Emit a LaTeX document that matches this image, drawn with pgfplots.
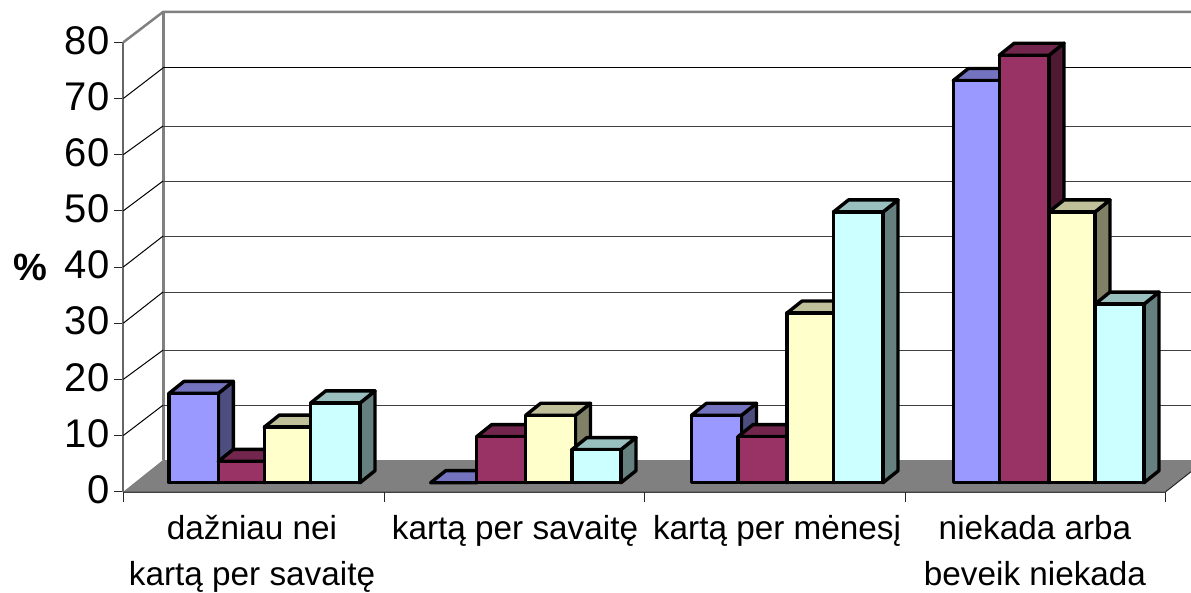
\documentclass[border=0pt]{standalone}
\usepackage{pgfplots}
\pgfplotsset{compat=1.18}
\usepackage{fontspec}
\setmainfont{Liberation Sans}
\definecolor{bf}{HTML}{9999FF}\definecolor{bt}{HTML}{7373BF}\definecolor{bs}{HTML}{4D4D80}
\definecolor{rf}{HTML}{993366}\definecolor{rt}{HTML}{73264D}\definecolor{rs}{HTML}{4D1933}
\definecolor{yf}{HTML}{FFFFCC}\definecolor{yt}{HTML}{BFBF99}\definecolor{ys}{HTML}{808066}
\definecolor{cf}{HTML}{CCFFFF}\definecolor{ct}{HTML}{99BFBF}\definecolor{cs}{HTML}{668080}
% #1 left, #2 right, #3 value, #4 colour prefix
\newcommand\cube[4]{%
  \pgfmathsetmacro\yb{1.6}%
  \pgfmathsetmacro\yB{1.6+2.14}%
  \pgfmathsetmacro\yt{1.6+#3}%
  \pgfmathsetmacro\yT{1.6+#3+2.14}%
  \pgfmathsetmacro\xl{#1+15}%
  \pgfmathsetmacro\xr{#2+15}%
  \edef\tmp{%
    \noexpand\addplot[barline,fill=#4s] coordinates {(#2,\yb)(\xr,\yB)(\xr,\yT)(#2,\yt)} -- cycle;
    \noexpand\addplot[barline,fill=#4t] coordinates {(#1,\yt)(#2,\yt)(\xr,\yT)(\xl,\yT)} -- cycle;
    \noexpand\addplot[barline,fill=#4f] coordinates {(#1,\yb)(#2,\yb)(#2,\yt)(#1,\yt)} -- cycle;
  }\tmp}
\begin{document}
\begin{tikzpicture}[x=1pt,y=1pt]
\path[use as bounding box] (0,0) rectangle (1191,592);
\clip (0,0) rectangle (1191,592);
\begin{axis}[
  at={(123.3pt,100.3pt)},anchor=south west,
  scale only axis,width=1042.4pt,height=449.4pt,
  xmin=123.3,xmax=1165.7,ymin=0,ymax=80,clip=false,
  axis x line=bottom,axis y line=left,axis line style={-},
  x axis line style={color=black!75,line width=2pt},
  y axis line style={color=black!60,line width=2pt},
  barline/.style={draw=black,line width=3.4pt,line join=round,mark=none},
  ytick={0,10,...,80},
  yticklabel style={font=\fontsize{40}{40}\selectfont,xshift=-1pt,yshift=2pt},
  /pgf/number format/assume math mode=true,
  ytick style={draw=black!85,line width=1pt},
  tick align=outside,
  major tick length=9.5pt,
  xtick={252,515,777,1035},
  xticklabels={{dažniau nei\\kartą per savaitę},{kartą per savaitę},{kartą per mėnesį},{niekada arba\\beveik niekada}},
  xticklabel style={font=\fontsize{33.3}{46}\selectfont,align=center,anchor=north,yshift=-11pt},
  xtick style={draw=none},
  extra x ticks={123.3,384,644.5,905,1165.7},
  extra x tick labels={},
  extra x tick style={xtick style={draw=black!85,line width=1pt},major tick length=10pt},
  ylabel={\bfseries\%},
  every axis y label/.style={at={(axis description cs:-0.0895,0.498)},anchor=center,font=\fontsize{38}{38}\selectfont},
]
% walls
\addplot[black!50,line width=2.5pt,mark=none] coordinates {(123.3,80)(163,85.4)(1191,85.4)};
\addplot[black!50,line width=3pt,mark=none] coordinates {(163,5.64)(163,85.4)};
% grid
\addplot[black,line width=1pt,mark=none] coordinates {(123.3,70)(163,75.43)};
\addplot[black,line width=1pt,mark=none] coordinates {(163,75.43)(1191,75.43)};
\addplot[black,line width=1pt,mark=none] coordinates {(123.3,60)(163,65.1)};
\addplot[black!75,line width=1pt,mark=none] coordinates {(163,65.1)(1191,65.1)};
\addplot[black,line width=1pt,mark=none] coordinates {(123.3,50)(163,55.3)};
\addplot[black!75,line width=1pt,mark=none] coordinates {(163,55.3)(1191,55.3)};
\addplot[black,line width=1pt,mark=none] coordinates {(123.3,40)(163,45.5)};
\addplot[black!75,line width=1pt,mark=none] coordinates {(163,45.5)(1191,45.5)};
\addplot[black,line width=1pt,mark=none] coordinates {(123.3,30)(163,35.55)};
\addplot[black!75,line width=1pt,mark=none] coordinates {(163,35.55)(1191,35.55)};
\addplot[black,line width=1pt,mark=none] coordinates {(123.3,20)(163,25.2)};
\addplot[black!75,line width=1pt,mark=none] coordinates {(163,25.2)(1191,25.2)};
\addplot[black,line width=1pt,mark=none] coordinates {(123.3,10)(163,15.4)};
\addplot[black!75,line width=1pt,mark=none] coordinates {(163,15.4)(1191,15.4)};
% floor
\addplot[draw=none,fill=black!50,mark=none] coordinates {(123.3,0)(163,5.64)(1191,5.64)(1191,3.56)(1165.7,0)} -- cycle;
\addplot[black!85,line width=1pt,mark=none] coordinates {(1165.7,0)(1191,3.56)};
% bars
\cube{169}{218.3}{15.9}{b}
\cube{218.3}{264.3}{3.8}{r}
\cube{264.3}{310.7}{9.9}{y}
\cube{310.7}{360}{14.2}{c}
\cube{430.7}{476.7}{0}{b}
\cube{476.7}{525.7}{8.2}{r}
\cube{525.7}{575.5}{12}{y}
\cube{572}{621}{5.9}{c}
\cube{691.5}{741.5}{12}{b}
\cube{738}{787}{8.2}{r}
\cube{787}{833.5}{30.2}{y}
\cube{833.5}{883}{48.2}{c}
\cube{953.3}{999.3}{71.6}{b}
\cube{999.3}{1049}{76.1}{r}
\cube{1049}{1095}{48.2}{y}
\cube{1095}{1144}{31.8}{c}
\end{axis}
\end{tikzpicture}
\end{document}
